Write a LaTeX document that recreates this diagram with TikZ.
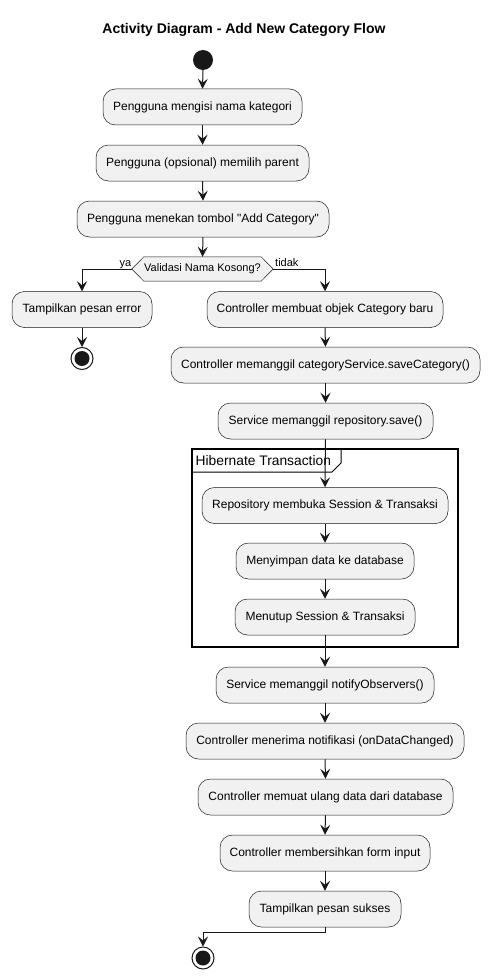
\documentclass[tikz,border=0pt]{standalone}
\usepackage{fontspec}
\setmainfont{Liberation Sans}[Ligatures=TeXOff]
\usetikzlibrary{arrows.meta}
\definecolor{boxfill}{HTML}{F1F1F1}
\definecolor{ink}{HTML}{181818}
\tikzset{
  actbox/.style={draw=ink, line width=0.5pt, fill=boxfill, rounded corners=12.5pt,
    minimum height=36pt, inner sep=0pt, font=\fontsize{12}{14}\selectfont, text=black},
  arr/.style={draw=ink, line width=1pt, -{Stealth[length=10pt,width=10pt,inset=4pt]}},
  lbl/.style={font=\fontsize{11}{13}\selectfont, inner sep=0pt, text=black},
  decbox/.style={minimum width=141pt, minimum height=24pt, inner sep=0pt, font=\fontsize{11}{13}\selectfont},
  startdot/.style={circle, fill=ink, minimum size=20pt, inner sep=0pt},
  enddot/.style={circle, draw=ink, line width=1pt, fill=white, minimum size=22pt, inner sep=0pt},
}
\begin{document}
\begin{tikzpicture}[x=1pt,y=-1pt]
\useasboundingbox (0,0) rectangle (489,979);
\fill[white] (0,0) rectangle (489,979);

\node[font=\bfseries\fontsize{14}{16}\selectfont] (title) at (244,30) {Activity Diagram - Add New Category Flow};

\node[startdot] (start) at (203,60) {};
\node[actbox, minimum width=199pt] (a1) at (202.5,107) {Pengguna mengisi nama kategori};
\node[actbox, minimum width=213pt] (a2) at (202.5,163) {Pengguna (opsional) memilih parent};
\node[actbox, minimum width=252pt] (a3) at (203,219) {Pengguna menekan tombol "Add Category"};

\node[decbox] (dec) at (202.5,269) {};
\draw[draw=ink, line width=0.5pt, fill=boxfill] (dec.west) -- ([xshift=12pt]dec.north west) -- ([xshift=-12pt]dec.north east) -- (dec.east) -- ([xshift=-12pt]dec.south east) -- ([xshift=12pt]dec.south west) -- cycle;
\node[decbox] (dectext) at (dec.center) {Validasi Nama Kosong?};

\node[lbl, anchor=base east] (ya) at (131.5,266.5) {ya};
\node[lbl, anchor=base west] (tidak) at (275,266.5) {tidak};

\node[actbox, minimum width=140pt] (err) at (82,309.5) {Tampilkan pesan error};
\node[enddot] (end1) at (82,358.5) {};
\fill[ink] (end1.center) circle (7.5);

\node[actbox, minimum width=236pt] (r1) at (325,309.5) {Controller membuat objek Category baru};
\node[actbox, minimum width=309pt] (r2) at (325.5,365) {Controller memanggil categoryService.saveCategory()};
\node[actbox, minimum width=215pt] (r3) at (325.5,421) {Service memanggil repository.save()};

% frame
\draw[draw=black, line width=1.5pt] (192,449) rectangle (458,647);
\draw[draw=black, line width=1pt] (192,472) -- (332,472) -- (341,463) -- (341,449);
\node[anchor=west, inner sep=0pt, font=\fontsize{13.8}{16}\selectfont] (ftitle) at (195.5,460.5) {Hibernate Transaction};

\node[actbox, minimum width=246pt] (t1) at (325,505.5) {Repository membuka Session \& Transaksi};
\node[actbox, minimum width=178pt] (t2) at (325,561) {Menyimpan data ke database};
\node[actbox, minimum width=180pt] (t3) at (325,617) {Menutup Session \& Transaksi};

\node[actbox, minimum width=218pt] (n1) at (325,685) {Service memanggil notifyObservers()};
\node[actbox, minimum width=278pt] (n2) at (325,741) {Controller menerima notifikasi (onDataChanged)};
\node[actbox, minimum width=255pt] (n3) at (325.5,797) {Controller memuat ulang data dari database};
\node[actbox, minimum width=210pt] (n4) at (325,853) {Controller membersihkan form input};
\node[actbox, minimum width=152pt] (n5) at (325,909) {Tampilkan pesan sukses};
\node[enddot] (end2) at (203,958) {};
\fill[ink] (end2.center) circle (7.5);

% connectors
\draw[arr] (start.south) -- (a1.north);
\draw[arr] (a1.south) -- (a2.north);
\draw[arr] (a2.south) -- (a3.north);
\draw[arr] (a3.south) -- (dec.north);
\draw[arr] (dec.west) -| (err.north);
\draw[arr] (dec.east) -| (r1.north);
\draw[arr] (err.south) -- (end1.north);
\draw[arr] (r1.south) -- (r2.north);
\draw[arr] (r2.south) -- (r3.north);
\draw[arr] (r3.south) -- (t1.north);
\draw[arr] (t1.south) -- (t2.north);
\draw[arr] (t2.south) -- (t3.north);
\draw[arr] (t3.south) -- (n1.north);
\draw[arr] (n1.south) -- (n2.north);
\draw[arr] (n2.south) -- (n3.north);
\draw[arr] (n3.south) -- (n4.north);
\draw[arr] (n4.south) -- (n5.north);
\draw[arr] (n5.south) -- ++(0,5) -| (end2.north);
\end{tikzpicture}
\end{document}
